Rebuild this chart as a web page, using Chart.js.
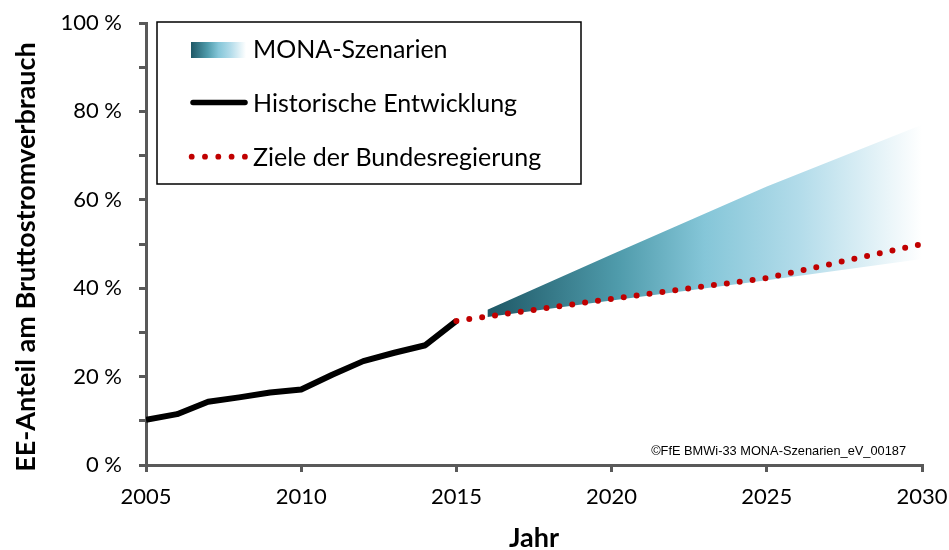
<!DOCTYPE html>
<html>
<head>
<meta charset="utf-8">
<script src="https://cdn.jsdelivr.net/npm/chart.js@4.4.1/dist/chart.umd.min.js"></script>
<style>
  html, body { margin: 0; padding: 0; background: #fff; }
  #wrap { width: 949px; height: 550px; }
</style>
</head>
<body>
<div id="wrap"><canvas id="eeChart" width="949" height="550"></canvas></div>
<script>
// Historische Entwicklung (EE-Anteil in %)
const histYears = [2005, 2006, 2007, 2008, 2009, 2010, 2011, 2012, 2013, 2014, 2015];
const histValues = [10.2, 11.5, 14.3, 15.3, 16.4, 17.1, 20.4, 23.5, 25.4, 27.1, 32.6];

// Ziele der Bundesregierung
const targetYears = [2015, 2020, 2025, 2030];
const targetValues = [32.6, 37.6, 42.3, 50.0];

// MONA-Szenarien: Bandbreite oben / unten
const bandYears = [2016, 2020, 2025, 2030];
const bandUpper = [35.1, 47.6, 63.0, 77.0];
const bandLower = [33.5, 37.2, 41.8, 46.6];

const yTicks = [0, 20, 40, 60, 80, 100];
const xTicks = [2005, 2010, 2015, 2020, 2025, 2030];

const axisColor = '#595959';
const fontFamily = 'Lato, Calibri, "Noto Sans", sans-serif';

function toPoints(xs, ys) {
    return xs.map((x, i) => ({ x: x, y: ys[i] }));
}

// gradient from dark teal over light blue to white
function addBandStops(g) {
    g.addColorStop(0, '#1e5866');
    g.addColorStop(0.3, '#4f9bab');
    g.addColorStop(0.5, '#85c6d8');
    g.addColorStop(0.72, '#b3dcea');
    g.addColorStop(1, '#ffffff');
    return g;
}

function bandFill(context) {
    const chart = context.chart;
    if (!chart.chartArea) return 'rgba(0,0,0,0)';
    const x0 = chart.scales.x.getPixelForValue(bandYears[0]);
    const x1 = chart.scales.x.getPixelForValue(bandYears[bandYears.length - 1]);
    return addBandStops(chart.ctx.createLinearGradient(x0, 0, x1, 0));
}

// legend box, axis titles and source note
const extrasPlugin = {
    id: 'extras',
    afterDraw(chart) {
        const ctx = chart.ctx;
        ctx.save();

        // legend frame
        ctx.fillStyle = '#fff';
        ctx.fillRect(157, 22, 424, 162);
        ctx.strokeStyle = '#000';
        ctx.lineWidth = 1.5;
        ctx.strokeRect(157, 22, 424, 162);

        // swatch
        ctx.fillStyle = addBandStops(ctx.createLinearGradient(191, 0, 246, 0));
        ctx.fillRect(191, 42, 55, 16);

        // black line
        ctx.strokeStyle = '#000';
        ctx.lineWidth = 5.5;
        ctx.lineCap = 'round';
        ctx.beginPath();
        ctx.moveTo(193, 102.5);
        ctx.lineTo(245, 102.5);
        ctx.stroke();

        // red dots
        ctx.fillStyle = '#c00000';
        for (let i = 0; i < 5; i++) {
            ctx.beginPath();
            ctx.arc(191.7 + i * 13.3, 156.7, 2.9, 0, Math.PI * 2);
            ctx.fill();
        }

        ctx.fillStyle = '#000';
        ctx.font = '25px ' + fontFamily;
        ctx.textAlign = 'left';
        ctx.textBaseline = 'alphabetic';
        ctx.fillText('MONA-Szenarien', 253, 58);
        ctx.fillText('Historische Entwicklung', 253, 111.5);
        ctx.fillText('Ziele der Bundesregierung', 253, 165.5);

        // axis titles
        ctx.font = 'bold 27px ' + fontFamily;
        ctx.textAlign = 'center';
        ctx.textBaseline = 'middle';
        ctx.fillText('Jahr', 534, 538);
        ctx.translate(26, 257);
        ctx.rotate(-Math.PI / 2);
        ctx.fillText('EE-Anteil am Bruttostromverbrauch', 0, 0);
        ctx.setTransform(1, 0, 0, 1, 0, 0);

        // source note
        ctx.font = '12.8px "Liberation Sans", Arial, sans-serif';
        ctx.textAlign = 'right';
        ctx.fillText('\u00A9FfE BMWi-33 MONA-Szenarien_eV_00187', 906, 451);

        ctx.restore();
    }
};

document.addEventListener('DOMContentLoaded', function() {
    const ctx = document.getElementById('eeChart').getContext('2d');

    new Chart(ctx, {
        type: 'line',
        data: {
            datasets: [
                {
                    label: 'Ziele der Bundesregierung',
                    data: toPoints(targetYears, targetValues),
                    borderColor: '#c00000',
                    borderWidth: 6,
                    borderDash: [0, 13],
                    borderCapStyle: 'round',
                    fill: false,
                    order: 0
                },
                {
                    label: 'Historische Entwicklung',
                    data: toPoints(histYears, histValues),
                    borderColor: '#000',
                    borderWidth: 6,
                    borderJoinStyle: 'round',
                    fill: false,
                    order: 1
                },
                {
                    label: 'MONA oben',
                    data: toPoints(bandYears, bandUpper),
                    borderWidth: 0,
                    borderColor: 'rgba(0,0,0,0)',
                    backgroundColor: bandFill,
                    fill: '+1',
                    order: 2
                },
                {
                    label: 'MONA unten',
                    data: toPoints(bandYears, bandLower),
                    borderWidth: 0,
                    borderColor: 'rgba(0,0,0,0)',
                    fill: false,
                    order: 3
                }
            ]
        },
        options: {
            responsive: false,
            animation: false,
            layout: { padding: { left: 0, top: 23, right: 27, bottom: 0 } },
            elements: { point: { radius: 0, hoverRadius: 0 }, line: { tension: 0 } },
            plugins: {
                legend: { display: false },
                tooltip: { enabled: false }
            },
            scales: {
                x: {
                    type: 'linear',
                    min: 2005,
                    max: 2030,
                    afterFit(scale) {
                        scale.height = 85;
                        scale.paddingLeft = 0;
                        scale.paddingRight = 0;
                    },
                    afterBuildTicks(scale) { scale.ticks = xTicks.map(v => ({ value: v })); },
                    grid: { drawOnChartArea: false, drawTicks: true, tickLength: 7, color: axisColor, lineWidth: 3 },
                    border: { display: true, color: axisColor, width: 3 },
                    ticks: {
                        padding: 12,
                        color: '#000',
                        font: { family: fontFamily, size: 22 },
                        maxRotation: 0,
                        callback: v => String(v)
                    }
                },
                y: {
                    min: 0,
                    max: 100,
                    afterFit(scale) {
                        scale.width = 146;
                        scale.paddingTop = 0;
                        scale.paddingBottom = 0;
                    },
                    afterBuildTicks(scale) {
                        const t = [];
                        for (let v = 0; v <= 100; v += 10) t.push({ value: v });
                        scale.ticks = t;
                    },
                    grid: { drawOnChartArea: false, drawTicks: true, tickLength: 7, color: axisColor, lineWidth: 3 },
                    border: { display: true, color: axisColor, width: 3 },
                    ticks: {
                        padding: 17,
                        color: '#000',
                        font: { family: fontFamily, size: 22 },
                        callback: v => yTicks.includes(v) ? v + ' %' : ''
                    }
                }
            }
        },
        plugins: [extrasPlugin]
    });
});
</script>
</body>
</html>
